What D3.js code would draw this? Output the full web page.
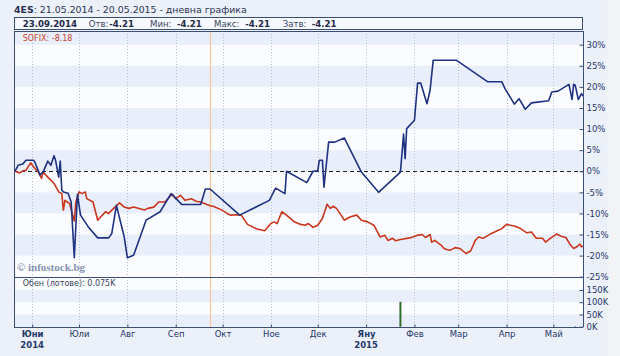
<!DOCTYPE html>
<html><head><meta charset="utf-8">
<script src="https://cdn.jsdelivr.net/npm/d3@7"></script>
<style>
html,body{margin:0;padding:0;background:#f1f3f7;}
svg{display:block;font-family:"DejaVu Sans",Verdana,sans-serif;}
</style></head>
<body><svg id="c" width="620" height="356"></svg>
<script>
// ---- data ----
const seriesDates4ES = ["2014-05-21","2014-05-23","2014-05-26","2014-05-28","2014-06-02","2014-06-03","2014-06-06","2014-06-08","2014-06-11","2014-06-13","2014-06-15","2014-06-16","2014-06-18","2014-06-19","2014-06-20","2014-06-21","2014-06-24","2014-06-26","2014-06-28","2014-06-30","2014-07-02","2014-07-07","2014-07-13","2014-07-20","2014-07-22","2014-07-25","2014-07-30","2014-08-01","2014-08-05","2014-08-13","2014-08-22","2014-08-29","2014-09-05","2014-09-17","2014-09-20","2014-09-23","2014-10-12","2014-10-31","2014-11-04","2014-11-10","2014-11-11","2014-11-24","2014-11-28","2014-12-01","2014-12-02","2014-12-04","2014-12-05","2014-12-08","2014-12-12","2014-12-18","2014-12-29","2015-01-09","2015-01-23","2015-01-25","2015-01-26","2015-01-27","2015-02-01","2015-02-03","2015-02-05","2015-02-09","2015-02-11","2015-02-13","2015-02-28","2015-03-20","2015-03-29","2015-03-31","2015-04-02","2015-04-06","2015-04-09","2015-04-13","2015-04-17","2015-04-28","2015-04-30","2015-05-04","2015-05-11","2015-05-13","2015-05-14","2015-05-15","2015-05-17","2015-05-19","2015-05-20"];
const values4ES = [0,1.4,1.7,2.6,2.6,1.9,-0.9,-0.2,2.4,1.4,3.7,2.6,-1.4,2.4,-4.5,-4.9,-5.2,-7.3,-20.5,-5.5,-10.4,-13.2,-15.8,-15.8,-14.8,-8.1,-15.6,-20.5,-19.9,-11.6,-9.6,-5.3,-7.9,-7.9,-4.2,-4.21,-10.4,-6.9,-4.0,-5.3,0,-2.7,0,0.1,2.6,2.6,-3.8,6.9,6.9,7.9,-0.2,-5.0,-0.2,8.8,3.0,10.1,12.1,20.9,20.9,16.0,19.2,26.3,26.3,21.2,21.2,19.6,18.4,15.9,17.2,14.7,16.2,16.7,18.8,19.0,20.6,17.0,20.6,20.4,17.0,18.4,17.8];

const seriesDatesSOFIX = ["2014-05-21","2014-05-24","2014-05-26","2014-05-28","2014-05-31","2014-06-02","2014-06-05","2014-06-07","2014-06-08","2014-06-11","2014-06-15","2014-06-18","2014-06-20","2014-06-21","2014-06-22","2014-06-25","2014-06-28","2014-06-29","2014-07-01","2014-07-03","2014-07-05","2014-07-06","2014-07-10","2014-07-13","2014-07-15","2014-07-18","2014-07-20","2014-07-24","2014-07-27","2014-07-30","2014-08-02","2014-08-05","2014-08-12","2014-08-14","2014-08-18","2014-08-21","2014-08-25","2014-08-28","2014-08-30","2014-09-01","2014-09-04","2014-09-07","2014-09-11","2014-09-14","2014-09-17","2014-09-21","2014-09-23","2014-09-25","2014-09-30","2014-10-04","2014-10-06","2014-10-10","2014-10-13","2014-10-17","2014-10-23","2014-10-28","2014-11-01","2014-11-03","2014-11-05","2014-11-08","2014-11-11","2014-11-16","2014-11-20","2014-11-23","2014-11-25","2014-11-28","2014-12-01","2014-12-04","2014-12-07","2014-12-09","2014-12-11","2014-12-13","2014-12-16","2014-12-18","2014-12-22","2014-12-26","2014-12-29","2015-01-02","2015-01-06","2015-01-10","2015-01-13","2015-01-15","2015-01-18","2015-01-20","2015-01-23","2015-01-29","2015-02-03","2015-02-06","2015-02-08","2015-02-11","2015-02-12","2015-02-14","2015-02-18","2015-02-20","2015-02-22","2015-02-24","2015-02-27","2015-03-02","2015-03-06","2015-03-09","2015-03-12","2015-03-14","2015-03-17","2015-03-22","2015-03-26","2015-03-29","2015-04-01","2015-04-06","2015-04-10","2015-04-14","2015-04-17","2015-04-20","2015-04-24","2015-04-26","2015-04-29","2015-05-03","2015-05-06","2015-05-09","2015-05-12","2015-05-14","2015-05-16","2015-05-18","2015-05-19","2015-05-20"];
const valuesSOFIX = [0,-0.4,0.1,0.2,2.0,1.0,-0.2,-1.7,-0.2,-1.4,-2.9,-4.9,-5.3,-9.2,-6.9,-7.7,-11.8,-7.3,-4.9,-5.3,-4.9,-6.5,-7.3,-11.6,-10.8,-9.6,-10.0,-8.5,-7.5,-8.5,-8.8,-8.5,-9.2,-8.8,-8.5,-7.3,-7.3,-6.1,-5.5,-6.5,-5.7,-6.9,-6.5,-7.1,-7.3,-7.9,-8.18,-8.3,-9.1,-10.0,-10.4,-10.3,-10.4,-12.6,-13.7,-14.1,-12.4,-12.0,-12.4,-9.6,-10.4,-12.0,-12.6,-12.8,-12.4,-13.3,-12.8,-11.2,-7.8,-8.8,-8.3,-8.8,-10.4,-11.6,-10.8,-10.4,-11.6,-12.0,-12.8,-15.6,-15.2,-16.4,-15.9,-16.5,-16.2,-15.8,-15.2,-15.0,-15.7,-15.0,-16.8,-16.4,-17.5,-18.3,-18.6,-18.7,-18.1,-18.3,-19.5,-18.9,-16.4,-15.6,-15.9,-14.8,-14.1,-13.6,-12.6,-13.0,-13.6,-14.6,-14.4,-15.9,-15.9,-16.8,-15.9,-14.9,-15.4,-15.7,-17.5,-18.3,-17.9,-17.3,-17.9,-17.8];

const volumeDates = ["2015-01-23","2015-05-15"];
const volumeValues = [102000, 2000];

const pctTicks = [-25,-20,-15,-10,-5,0,5,10,15,20,25,30];
const volTicks = [0,50000,100000,150000];
const monthTicks = ["2014-06-01","2014-07-01","2014-08-01","2014-09-01","2014-10-01","2014-11-01","2014-12-01","2015-01-01","2015-02-01","2015-03-01","2015-04-01","2015-05-01"];
const monthLabels = ["Юни","Юли","Авг","Сеп","Окт","Ное","Дек","Яну","Фев","Мар","Апр","Май"];
const yearLabels = {"2014-06-01":"2014","2015-01-01":"2015"};
const cursorDate = "2014-09-23";
const titleName = "4ES";
const titleRest = ": 21.05.2014 - 20.05.2015 - дневна графика";
const infoItems = [["23.09.2014",""],["Отв:","-4.21"],["Мин:","-4.21"],["Макс:","-4.21"],["Затв:","-4.21"]];
const sofixLabel = "SOFIX: -8.18";
const volumeLabel = "Обен (лотове): 0.075K";

// ---- layout ----
const parse = d3.timeParse("%Y-%m-%d");
const L = 14, R = 583, T = 31, MB = 277, VB = 327;
const svg = d3.select("#c");
svg.append("rect").attr("width",607).attr("height",356).attr("fill","#ecf0f8");

const x = d3.scaleTime().domain([parse("2014-05-21"), parse("2015-05-20")]).range([L+1, R]);
const y = d3.scaleLinear().domain([-25, 30]).range([276.7, 44.7]);
const yv = d3.scaleLinear().domain([0, 150000]).range([326.7, 290]);

// plot backgrounds
svg.append("rect").attr("x",L).attr("y",T).attr("width",R-L).attr("height",VB-T).attr("fill","#fbfcff");
const bandColor = "#e9effa";
const bandsMain = [[30,33.5],[20,25],[10,15],[0,5],[-10,-5],[-20,-15]];
svg.selectAll(".bm").data(bandsMain).enter().append("rect")
  .attr("x",L).attr("width",R-L)
  .attr("y",d=>Math.max(T,y(d[1]))).attr("height",d=>y(d[0])-Math.max(T,y(d[1])))
  .attr("fill",bandColor);
const bandsVol = [[100000,150000],[0,50000]];
svg.selectAll(".bv").data(bandsVol).enter().append("rect")
  .attr("x",L).attr("width",R-L)
  .attr("y",d=>yv(d[1])).attr("height",d=>yv(d[0])-yv(d[1]))
  .attr("fill",bandColor);

// vertical grid
svg.selectAll(".vg").data(monthTicks).enter().append("line")
  .attr("x1",d=>Math.round(x(parse(d)))+0.5).attr("x2",d=>Math.round(x(parse(d)))+0.5)
  .attr("y1",T).attr("y2",VB)
  .attr("stroke","#b4bfd9").attr("stroke-width",1).attr("stroke-dasharray","1,2");

// cursor line
svg.append("line").attr("x1",Math.round(x(parse(cursorDate)))+0.5).attr("x2",Math.round(x(parse(cursorDate)))+0.5)
  .attr("y1",T).attr("y2",VB).attr("stroke","#f6c89a").attr("stroke-width",1.2);

// zero line
svg.append("line").attr("x1",L).attr("x2",R).attr("y1",Math.round(y(0))+0.5).attr("y2",Math.round(y(0))+0.5)
  .attr("stroke","#222").attr("stroke-dasharray","4,3");

// lines
const line = d3.line().x(d=>x(d[0])).y(d=>y(d[1]));
const sofix = seriesDatesSOFIX.map((d,i)=>[parse(d), valuesSOFIX[i]]);
const es = seriesDates4ES.map((d,i)=>[parse(d), values4ES[i]]);
svg.append("path").attr("d",line(sofix)).attr("fill","none").attr("stroke","#c8361c").attr("stroke-width",1.6).attr("stroke-linejoin","round");
svg.append("path").attr("d",line(es)).attr("fill","none").attr("stroke","#1f3280").attr("stroke-width",1.6).attr("stroke-linejoin","round");

// volume bars
svg.selectAll(".vb").data(volumeDates).enter().append("rect")
  .attr("x",d=>x(parse(d))-1).attr("width",2)
  .attr("y",(d,i)=>yv(volumeValues[i])).attr("height",(d,i)=>yv(0)-yv(volumeValues[i]))
  .attr("fill","#2f6b2f");

// frame
const frame = "#3b4d72";
svg.append("line").attr("x1",L+0.5).attr("x2",L+0.5).attr("y1",T).attr("y2",VB+0.5).attr("stroke",frame);
svg.append("line").attr("x1",L).attr("x2",R).attr("y1",T+0.5).attr("y2",T+0.5).attr("stroke",frame);
svg.append("line").attr("x1",L).attr("x2",R).attr("y1",MB+0.5).attr("y2",MB+0.5).attr("stroke",frame);

// right axes
const axisColor = "#24386a";
const gy = svg.append("g").attr("transform",`translate(${R+0.5},0)`)
  .call(d3.axisRight(y).tickValues(pctTicks).tickFormat(d=>d+"%").tickSizeInner(-4).tickSizeOuter(0).tickPadding(3));
gy.select(".domain").remove();
gy.append("line").attr("x1",0).attr("x2",0).attr("y1",T).attr("y2",VB).attr("stroke",frame);
const gv = svg.append("g").attr("transform",`translate(${R+0.5},0)`)
  .call(d3.axisRight(yv).tickValues(volTicks).tickFormat(d=>(d/1000)+"K").tickSizeInner(-4).tickSizeOuter(0).tickPadding(3));
gv.select(".domain").remove();
[gy,gv].forEach(g=>{
  g.selectAll("text").attr("fill",axisColor).style("font-size","8.5px").style("font-family","DejaVu Sans, Verdana, sans-serif");
  g.selectAll(".tick line").attr("stroke",frame);
});

// bottom axis
const gx = svg.append("g").attr("transform",`translate(0,${VB+0.5})`)
  .call(d3.axisBottom(x).tickValues(monthTicks.map(parse)).tickFormat((d,i)=>monthLabels[i]).tickSizeInner(-3).tickSizeOuter(0).tickPadding(3));
gx.select(".domain").attr("stroke",frame).attr("d",`M${L},0H${R}`);
gx.selectAll(".tick line").attr("stroke",frame);
gx.selectAll("text").attr("fill",axisColor).style("font-size","8.5px").style("font-family","DejaVu Sans, Verdana, sans-serif")
  .style("font-weight",(d,i)=>yearLabels[monthTicks[i]]?"bold":"normal");
svg.selectAll(".yr").data(monthTicks.filter(d=>yearLabels[d])).enter().append("text")
  .attr("x",d=>x(parse(d))).attr("y",347.5).attr("text-anchor","middle")
  .attr("fill",axisColor).style("font-size","8.5px").style("font-weight","bold").text(d=>yearLabels[d]);

// title
const title = svg.append("text").attr("x",L).attr("y",12.5).attr("fill","#2a3552").style("font-size","9.4px");
title.append("tspan").style("font-weight","bold").text(titleName);
title.append("tspan").text(titleRest);

// info box
svg.append("rect").attr("x",L+0.5).attr("y",17.5).attr("width",R-L-1).attr("height",12).attr("fill","#f5f8fd").attr("stroke",frame);
const infoX = [[22.7,null],[88.7,109.3],[150,177],[214,245.3],[282.7,311.7]];
infoItems.forEach((it,i)=>{
  if(i===0){
    svg.append("text").attr("x",infoX[i][0]).attr("y",27).attr("fill","#1e2a48").style("font-size","8.6px").style("font-weight","bold").text(it[0]);
  } else {
    svg.append("text").attr("x",infoX[i][0]).attr("y",27).attr("fill","#3a4660").style("font-size","8.6px").text(it[0]);
    svg.append("text").attr("x",infoX[i][1]).attr("y",27).attr("fill","#1e2a48").style("font-size","8.6px").style("font-weight","bold").text(it[1]);
  }
});

// labels
svg.append("text").attr("x",22.7).attr("y",40.5).attr("fill","#c8412b").style("font-size","8px").text(sofixLabel);
svg.append("text").attr("x",22.7).attr("y",286).attr("fill","#3a4660").style("font-size","8px").text(volumeLabel);
svg.append("text").attr("x",17).attr("y",271).attr("fill","#8494b0").style("font-family","Liberation Serif, serif")
  .style("font-size","11px").style("font-weight","bold").text("© infostock.bg");
</script></body></html>
